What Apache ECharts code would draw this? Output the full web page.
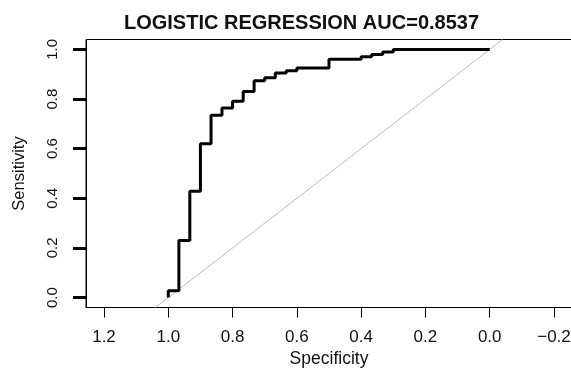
<!DOCTYPE html>
<html>
<head>
<meta charset="utf-8">
<script src="https://cdn.jsdelivr.net/npm/echarts@6/dist/echarts.min.js"></script>
<style>html,body{margin:0;padding:0;background:#fff;}#c{width:571px;height:370px;background:#fff;}</style>
</head>
<body>
<div id="c"></div>
<script>
var titleText = 'LOGISTIC REGRESSION AUC=0.8537';
var xName = 'Specificity';
var yName = 'Sensitivity';
var specificity = [1.0, 1.0, 0.967, 0.967, 0.933, 0.933, 0.9, 0.9, 0.867, 0.867, 0.833, 0.833, 0.8, 0.8, 0.767, 0.767, 0.733, 0.733, 0.7, 0.7, 0.667, 0.667, 0.633, 0.633, 0.6, 0.6, 0.5, 0.5, 0.4, 0.4, 0.367, 0.367, 0.333, 0.333, 0.3, 0.3, 0.0];
var sensitivity = [0.0, 0.027, 0.027, 0.23, 0.23, 0.428, 0.428, 0.62, 0.62, 0.735, 0.735, 0.764, 0.764, 0.791, 0.791, 0.83, 0.83, 0.874, 0.874, 0.886, 0.886, 0.905, 0.905, 0.914, 0.914, 0.925, 0.925, 0.96, 0.96, 0.97, 0.97, 0.98, 0.98, 0.99, 0.99, 1.0, 1.0];
var diagSpec = [1.04, -0.04];
var diagSens = [-0.04, 1.04];
var xTicks = [1.2, 1.0, 0.8, 0.6, 0.4, 0.2, 0.0, -0.2];
var yTicks = [0.0, 0.2, 0.4, 0.6, 0.8, 1.0];
var xRange = [-0.256, 1.256];
var yRange = [-0.04, 1.04];

var font = 'Liberation Sans, Arial, Helvetica, sans-serif';
function fmt(v){ var s = Math.abs(v).toFixed(1); return (v < -1e-9 ? '\u2212' : '') + s; }
var rocData = specificity.map(function(s,i){ return [s, sensitivity[i]]; });
var diagData = diagSpec.map(function(s,i){ return [s, diagSens[i]]; });

var chart = echarts.init(document.getElementById('c'));
chart.setOption({
  animation: false,
  graphic: [{
    type: 'text', x: 301.5, y: 23,
    style: { text: titleText, align: 'center', verticalAlign: 'middle', fontFamily: font, fontWeight: 'bold', fontSize: 20, fill: '#111' }
  }],
  grid: { left: 86, top: 39.5, width: 486, height: 268, outerBoundsMode: 'none', containLabel: false, show: true, borderColor: '#000', borderWidth: 1, backgroundColor: 'transparent' },
  xAxis: {
    type: 'value', inverse: true, min: xRange[0], max: xRange[1], position: 'bottom',
    name: xName, nameLocation: 'middle', nameGap: 43,
    nameTextStyle: { fontFamily: font, fontSize: 17.5, color: '#111' },
    axisLine: { show: true, onZero: false, lineStyle: { color: '#000', width: 1 } },
    axisTick: { show: true, length: 10, customValues: xTicks, lineStyle: { color: '#000', width: 1 } },
    axisLabel: { customValues: xTicks, formatter: fmt, margin: 21, fontFamily: font, fontSize: 17, color: '#111' },
    splitLine: { show: false }
  },
  yAxis: {
    type: 'value', min: yRange[0], max: yRange[1], position: 'left',
    name: yName, nameLocation: 'middle', nameGap: 58,
    nameTextStyle: { fontFamily: font, fontSize: 16.5, color: '#111' },
    axisLine: { show: true, onZero: false, lineStyle: { color: '#000', width: 1 } },
    axisTick: { show: true, length: 13, customValues: yTicks, lineStyle: { color: '#000', width: 3 } },
    axisLabel: { customValues: yTicks, formatter: fmt, rotate: 90, margin: 26, fontFamily: font, fontSize: 15, color: '#111' },
    splitLine: { show: false }
  },
  series: [
    { type: 'line', data: diagData, symbol: 'none', lineStyle: { color: '#bdbdbd', width: 1 } },
    { type: 'line', data: rocData, symbol: 'none', lineStyle: { color: '#000', width: 3 } }
  ]
});
</script>
</body>
</html>
